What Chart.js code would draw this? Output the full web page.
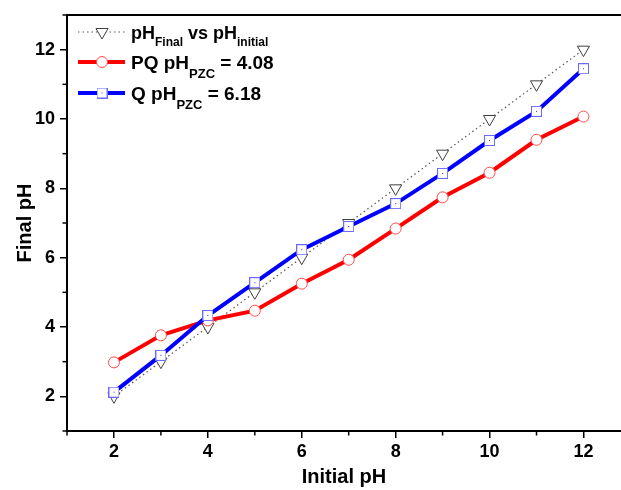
<!DOCTYPE html>
<html><head><meta charset="utf-8">
<script src="https://cdn.jsdelivr.net/npm/chart.js@4/dist/chart.umd.min.js"></script>
<style>html,body{margin:0;padding:0;background:#fff;overflow:hidden;} canvas{display:block;}</style>
</head><body>
<canvas id="c" width="621" height="490"></canvas>
<script>
// ---- data ----
const initialPH = [2, 3, 4, 5, 6, 7, 8, 9, 10, 11, 12];
const idealFinalPH = [2, 3, 4, 5, 6, 7, 8, 9, 10, 11, 12];
const pqFinalPH = [2.98, 3.76, 4.19, 4.47, 5.25, 5.94, 6.84, 7.74, 8.45, 9.40, 10.07];
const qFinalPH = [2.12, 3.18, 4.33, 5.28, 6.23, 6.90, 7.56, 8.43, 9.38, 10.22, 11.45];
const xMajorTicks = [2, 4, 6, 8, 10, 12];
const xMinorTicks = [1, 3, 5, 7, 9, 11];
const yMajorTicks = [2, 4, 6, 8, 10, 12];
const yMinorTicks = [1, 3, 5, 7, 9, 11, 13];
const xTitle = 'Initial pH';
const yTitle = 'Final pH';
const legendIdeal = [{t: 'pH'}, {t: 'Final', sub: true}, {t: ' vs pH'}, {t: 'initial', sub: true}];
const legendPQ = [{t: 'PQ pH'}, {t: 'PZC', sub: true}, {t: ' = 4.08'}];
const legendQ = [{t: 'Q pH'}, {t: 'PZC', sub: true}, {t: ' = 6.18'}];

const FONT = "'Liberation Sans', Arial, Helvetica, sans-serif";

// square marker with centre dot (Origin style)
function makeSquare() {
  const c = document.createElement('canvas');
  c.width = 11; c.height = 11;
  const g = c.getContext('2d');
  g.fillStyle = '#fff'; g.fillRect(0, 0, 11, 11);
  g.strokeStyle = '#6a6aff'; g.lineWidth = 1;
  g.strokeRect(0.5, 0.5, 10, 10);
  g.fillStyle = '#3030ff'; g.fillRect(5, 5, 1, 1);
  return c;
}
const squareImg = makeSquare();

const pts = (ys) => initialPH.map((x, i) => ({x: x, y: ys[i]}));

const datasets = [
  {
    label: 'Q', data: pts(qFinalPH), order: 1,
    borderColor: '#0000ff', borderWidth: 4, tension: 0,
    pointStyle: squareImg, pointRadius: 6, pointBorderWidth: 1,
    pointBackgroundColor: '#fff', pointBorderColor: '#6a6aff',
    legendParts: legendQ, legendRow: 2
  },
  {
    label: 'PQ', data: pts(pqFinalPH), order: 2,
    borderColor: '#ff0000', borderWidth: 4, tension: 0,
    pointStyle: 'circle', pointRadius: 5.5, pointBorderWidth: 1,
    pointBackgroundColor: '#fff', pointBorderColor: '#ff4a4a',
    legendParts: legendPQ, legendRow: 1
  },
  {
    label: 'ideal', data: pts(idealFinalPH), order: 3,
    borderColor: '#555', borderWidth: 1.2, borderDash: [1.5, 3], tension: 0,
    pointStyle: 'triangle', pointRotation: 180, pointRadius: 7, pointBorderWidth: 1,
    pointBackgroundColor: '#fff', pointBorderColor: '#404040',
    legendParts: legendIdeal, legendRow: 0
  }
];

const extras = {
  id: 'extras',
  afterDraw(chart) {
    const {ctx, chartArea: a, scales: {x, y}} = chart;
    ctx.save();
    // frame top
    ctx.strokeStyle = '#000';
    ctx.lineWidth = 2;
    ctx.beginPath(); ctx.moveTo(a.left - 1, a.top); ctx.lineTo(a.right + 2, a.top); ctx.stroke();
    // minor ticks
    ctx.lineWidth = 1.5;
    xMinorTicks.forEach(v => {
      const px = x.getPixelForValue(v);
      ctx.beginPath(); ctx.moveTo(px, a.bottom); ctx.lineTo(px, a.bottom + 4.5); ctx.stroke();
    });
    yMinorTicks.forEach(v => {
      const py = y.getPixelForValue(v);
      ctx.beginPath(); ctx.moveTo(a.left, py); ctx.lineTo(a.left - 4.5, py); ctx.stroke();
    });
    // legend
    const rowY = [32, 62, 93];
    chart.data.datasets.forEach(ds => {
      const ry = rowY[ds.legendRow];
      ctx.save();
      ctx.strokeStyle = ds.borderColor;
      ctx.lineWidth = ds.borderWidth;
      ctx.setLineDash(ds.borderDash || []);
      ctx.beginPath(); ctx.moveTo(78, ry); ctx.lineTo(125, ry); ctx.stroke();
      ctx.setLineDash([]);
      ctx.fillStyle = ds.pointBackgroundColor;
      ctx.strokeStyle = ds.pointBorderColor;
      ctx.lineWidth = ds.pointBorderWidth;
      Chart.helpers.drawPoint(ctx, {pointStyle: ds.pointStyle, radius: ds.pointRadius,
        rotation: ds.pointRotation || 0, borderWidth: ds.pointBorderWidth}, 102, ry);
      ctx.restore();
      const big = ds.legendRow === 0 ? 18 : 19;
      const small = ds.legendRow === 0 ? 12 : 13;
      const base = ry + 7;
      let tx = 131;
      ctx.fillStyle = '#000';
      ctx.textBaseline = 'alphabetic';
      ctx.textAlign = 'left';
      ds.legendParts.forEach(p => {
        ctx.font = 'bold ' + (p.sub ? small : big) + 'px ' + FONT;
        const by = p.sub ? base + (ds.legendRow === 0 ? 7 : 9) : base;
        ctx.fillText(p.t, tx, by);
        tx += ctx.measureText(p.t).width;
      });
    });
    ctx.restore();
  }
};

new Chart(document.getElementById('c'), {
  type: 'line',
  data: {datasets: datasets},
  options: {
    responsive: false,
    devicePixelRatio: 1,
    animation: false,
    layout: {autoPadding: false, padding: {top: 15, right: 0, left: 0, bottom: 0}},
    plugins: {legend: {display: false}, tooltip: {enabled: false}},
    scales: {
      x: {
        type: 'linear', min: 1, max: 12.8,
        afterBuildTicks: s => { s.ticks = xMajorTicks.map(v => ({value: v})); },
        afterFit: s => { s.height = 59; s.paddingLeft = 0; s.paddingRight = 0; },
        grid: {drawOnChartArea: false, drawTicks: true, tickLength: 7, color: '#000', lineWidth: 1.5},
        border: {display: true, color: '#000', width: 2},
        ticks: {color: '#000', padding: 3, font: {family: FONT, size: 18, weight: 'bold'}, maxRotation: 0},
        title: {display: true, text: xTitle, color: '#000', padding: {top: 0, bottom: 1},
          font: {family: FONT, size: 20, weight: 'bold'}}
      },
      y: {
        type: 'linear', min: 1, max: 13,
        afterBuildTicks: s => { s.ticks = yMajorTicks.map(v => ({value: v})); },
        afterFit: s => { s.width = 67; s.paddingTop = 0; s.paddingBottom = 0; },
        grid: {drawOnChartArea: false, drawTicks: true, tickLength: 7, color: '#000', lineWidth: 1.5},
        border: {display: true, color: '#000', width: 2},
        ticks: {color: '#000', padding: 5, font: {family: FONT, size: 18, weight: 'bold'}},
        title: {display: true, text: yTitle, color: '#000', padding: {top: 13, bottom: 0},
          font: {family: FONT, size: 20, weight: 'bold'}}
      }
    }
  },
  plugins: [extras]
});
</script>
</body></html>
